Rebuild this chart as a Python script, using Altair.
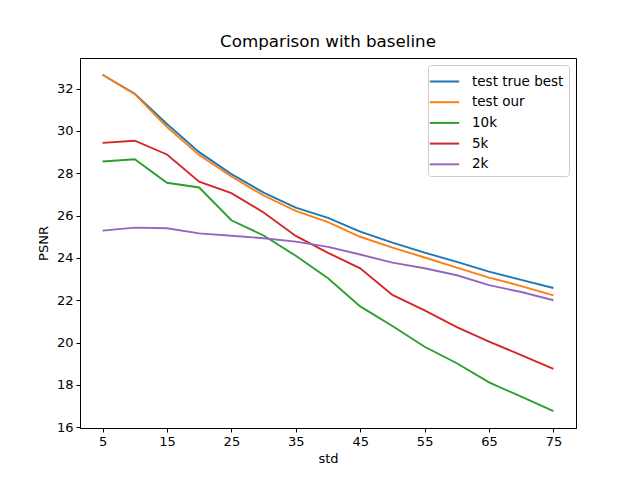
import altair as alt
import pandas as pd

std = [5, 10, 15, 20, 25, 30, 35, 40, 45, 50, 55, 60, 65, 70, 75]
test_true_best = [32.66, 31.76, 30.33, 29.0, 27.96, 27.09, 26.38, 25.89, 25.24, 24.72, 24.25, 23.81, 23.35, 22.96, 22.58]
test_our = [32.66, 31.74, 30.19, 28.86, 27.85, 26.95, 26.22, 25.69, 25.0, 24.49, 24.02, 23.54, 23.07, 22.67, 22.23]
k10 = [28.56, 28.66, 27.55, 27.33, 25.78, 25.06, 24.1, 23.04, 21.71, 20.78, 19.8, 19.02, 18.12, 17.44, 16.76]
k5 = [29.44, 29.54, 28.89, 27.6, 27.06, 26.15, 25.04, 24.24, 23.51, 22.25, 21.52, 20.73, 20.04, 19.41, 18.75]
k2 = [25.29, 25.43, 25.4, 25.16, 25.05, 24.93, 24.77, 24.52, 24.16, 23.78, 23.51, 23.18, 22.71, 22.39, 22.0]

series_names = ["test true best", "test our", "10k", "5k", "2k"]
series_values = [test_true_best, test_our, k10, k5, k2]
colors = ["#1f77b4", "#ff7f0e", "#2ca02c", "#d62728", "#9467bd"]
x_ticks = [5, 15, 25, 35, 45, 55, 65, 75]
y_ticks = [16, 18, 20, 22, 24, 26, 28, 30, 32]

rows = []
for name, vals in zip(series_names, series_values):
    for i, (s, v) in enumerate(zip(std, vals)):
        rows.append({"std": s, "PSNR": v, "series": name, "order": i})
df = pd.DataFrame(rows)

FONT = "DejaVu Sans"

chart = alt.Chart(df).mark_line(strokeWidth=1.9, clip=True).encode(
    x=alt.X("std:Q", title="std",
            scale=alt.Scale(domain=[1.5, 78.5], nice=False, zero=False),
            axis=alt.Axis(values=x_ticks, grid=False, domainColor="black",
                          tickColor="black", tickSize=4, labelColor="black",
                          labelFontSize=13, titleFontSize=13, titleFontWeight="normal",
                          labelFont=FONT, titleFont=FONT, titleColor="black",
                          labelPadding=3, titlePadding=4)),
    y=alt.Y("PSNR:Q", title="PSNR",
            scale=alt.Scale(domain=[15.96, 33.45], nice=False, zero=False),
            axis=alt.Axis(values=y_ticks, grid=False, domainColor="black",
                          tickColor="black", tickSize=4, labelColor="black",
                          labelFontSize=13, titleFontSize=13, titleFontWeight="normal",
                          labelFont=FONT, titleFont=FONT, titleColor="black",
                          labelPadding=3, titlePadding=6)),
    color=alt.Color("series:N", sort=series_names,
                    scale=alt.Scale(domain=series_names, range=colors),
                    legend=alt.Legend(title=None, orient="top-right", offset=7,
                                      symbolType="M-1.4,0L1.4,0", symbolStrokeWidth=2,
                                      symbolSize=441, labelFontSize=13.5, labelFont=FONT,
                                      labelColor="black", fillColor="white",
                                      strokeColor="#cccccc", cornerRadius=3,
                                      padding=5, rowPadding=2.7, labelOffset=16)),
    order="order:Q",
).properties(
    width=496,
    height=370,
    title=alt.TitleParams("Comparison with baseline", fontSize=16.7, font=FONT,
                          fontWeight="normal", color="black", offset=7),
    autosize=alt.AutoSizeParams(type="none"),
    padding={"left": 72, "top": 50, "right": 56, "bottom": 44},
).configure_view(stroke="black", strokeWidth=1)

chart.save("out.html", embed_options={"renderer": "svg", "actions": False})
